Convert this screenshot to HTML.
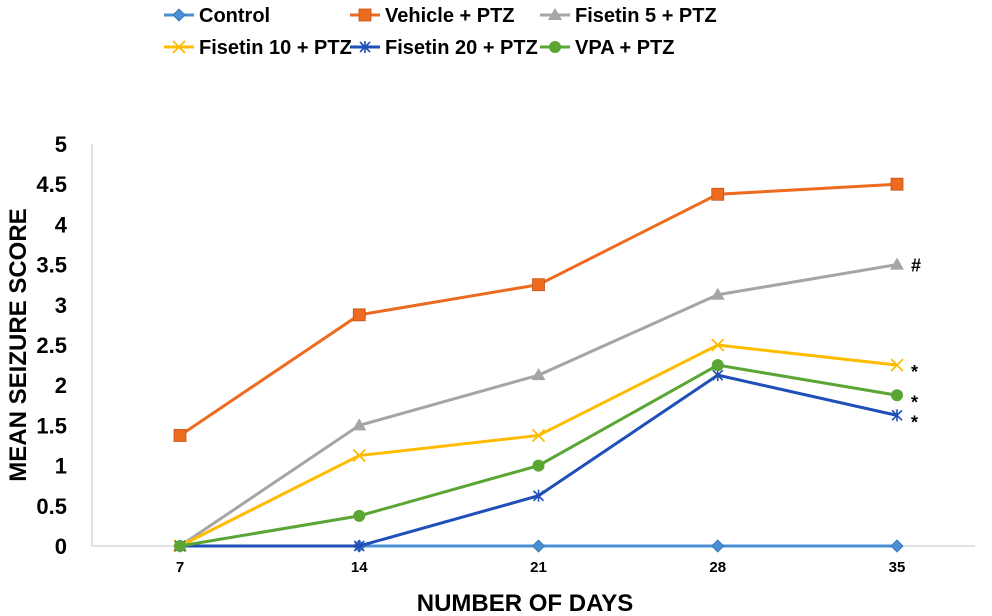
<!DOCTYPE html>
<html><head><meta charset="utf-8"><style>
body{margin:0;background:#fff}
svg{display:block;font-family:"Liberation Sans",Arial,sans-serif;font-weight:bold}
</style></head><body>
<svg id="chart" width="992" height="616" viewBox="0 0 992 616">
<g id="legend"></g>
<g id="axes">
<line x1="92" y1="144" x2="92" y2="546" stroke="#d9d9d9" stroke-width="1.5"/>
<line x1="92" y1="546" x2="975" y2="546" stroke="#d9d9d9" stroke-width="1.5"/>
<text x="525" y="611" font-size="24" text-anchor="middle">NUMBER OF DAYS</text>
<text transform="translate(26,345) rotate(-90)" font-size="24" text-anchor="middle">MEAN SEIZURE SCORE</text>
</g>
<g id="plot"></g>
</svg>
<script>
const days=[7,14,21,28,35];
const yTicks=[0,0.5,1,1.5,2,2.5,3,3.5,4,4.5,5];
const control=[0,0,0,0,0];
const vehicle=[1.375,2.875,3.25,4.375,4.5];
const fis5=[0,1.5,2.125,3.125,3.5];
const fis10=[0,1.125,1.375,2.5,2.25];
const fis20=[0,0,0.625,2.125,1.625];
const vpa=[0,0.375,1,2.25,1.875];
const names=["Control","Vehicle + PTZ","Fisetin 5 + PTZ","Fisetin 10 + PTZ","Fisetin 20 + PTZ","VPA + PTZ"];
const marks=["","","#","*","*","*"];

const NS="http://www.w3.org/2000/svg";
const X=d=>180+(d-7)*(717/28);
const Y=v=>546-v*80.4;
function mk(t,a,p){const e=document.createElementNS(NS,t);for(const k in a)e.setAttribute(k,a[k]);p.appendChild(e);return e;}
const axes=document.getElementById('axes'),plot=document.getElementById('plot'),legend=document.getElementById('legend');
yTicks.forEach(v=>{const t=mk('text',{x:67,y:Y(v)+8,'font-size':22,'text-anchor':'end'},axes);t.textContent=v;

});
days.forEach(d=>{const t=mk('text',{x:X(d),y:572,'font-size':15,'text-anchor':'middle'},axes);t.textContent=d;

});
const series=[
{v:control,c:"#4a8fd4",m:"diamond"},
{v:vehicle,c:"#ed6b1f",m:"square"},
{v:fis5,c:"#a5a5a5",m:"triangle"},
{v:fis10,c:"#ffbb00",m:"x"},
{v:fis20,c:"#1f4fb8",m:"star"},
{v:vpa,c:"#5aa533",m:"circle"}];
function marker(type,x,y,c,p){
 let e;
 if(type=="diamond")e=mk('polygon',{points:`${x},${y-6} ${x+6},${y} ${x},${y+6} ${x-6},${y}`,fill:c,stroke:"#2f6fb0","stroke-width":0.8},p);
 else if(type=="square")e=mk('rect',{x:x-6,y:y-6,width:12,height:12,fill:c,stroke:"#c0531a","stroke-width":0.8},p);
 else if(type=="triangle")e=mk('polygon',{points:`${x},${y-7} ${x+7},${y+5} ${x-7},${y+5}`,fill:c},p);
 else if(type=="circle")e=mk('circle',{cx:x,cy:y,r:6,fill:c},p);
 else if(type=="x")e=mk('path',{d:`M${x-6},${y-6}L${x+6},${y+6}M${x+6},${y-6}L${x-6},${y+6}`,stroke:c,"stroke-width":1.8},p);
 else e=mk('path',{d:`M${x-5},${y-5}L${x+5},${y+5}M${x+5},${y-5}L${x-5},${y+5}M${x},${y-6}L${x},${y+6}`,stroke:c,"stroke-width":1.6},p);
 return e;
}
series.forEach((s,i)=>{
 const pts=s.v.map((v,j)=>X(days[j])+","+Y(v)).join(" ");
 const l=mk('polyline',{points:pts,fill:"none",stroke:s.c,"stroke-width":3},plot);
 
 
 s.v.forEach((v,j)=>{const m=marker(s.m,X(days[j]),Y(v),s.c,plot);
 
 });
 if(marks[i]){const t=mk('text',{x:X(days[4])+14,y:Y(s.v[4])+(marks[i]=="#"?7:13),'font-size':marks[i]=="#"?18:18},plot);t.textContent=marks[i];
 
 }
});
const lpos=[[192,15],[378,15],[568,15],[192,47],[378,47],[568,47]];
series.forEach((s,i)=>{
 const [lx,ly]=lpos[i];
 const g=mk('g',{},legend);
 
 
 mk('line',{x1:lx-28,y1:ly,x2:lx+2,y2:ly,stroke:s.c,"stroke-width":3},g);
 marker(s.m,lx-13,ly,s.c,g);
 const t=mk('text',{x:lx+7,y:ly+7,'font-size':20},g);t.textContent=names[i];
});
</script>
</body></html>
